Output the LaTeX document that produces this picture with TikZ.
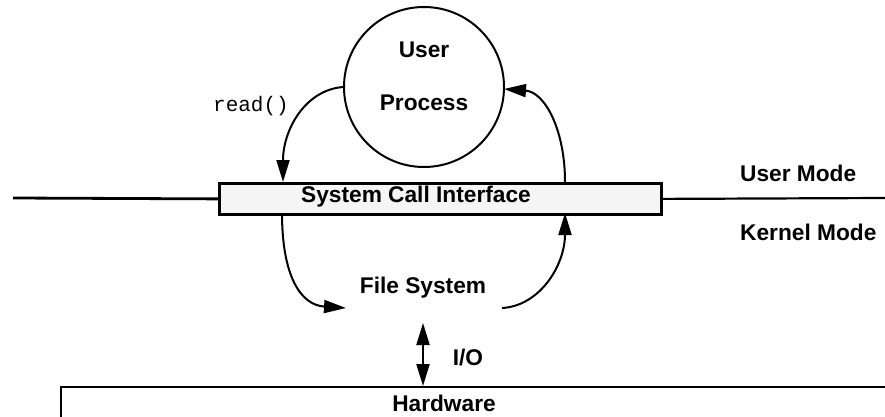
\documentclass[tikz,border=0pt]{standalone}
\usepackage{fontspec}
\setmainfont{Liberation Sans}
\newfontfamily\monofnt{Liberation Mono}
\usetikzlibrary{arrows.meta}
\tikzset{
  lbl/.style={font=\fontsize{22.7}{26}\selectfont\bfseries, inner sep=0pt},
  codelbl/.style={font=\monofnt\fontsize{21}{25}\selectfont, inner sep=0pt},
  bigtip/.tip={Triangle[length=22pt,width=13pt]},
  conn/.style={line width=2pt, -bigtip},
  bar/.style={line width=2.8pt},
}
\begin{document}
\begin{tikzpicture}[x=1pt,y=-1pt]
\useasboundingbox (0,0) rectangle (885,417);
% user/kernel boundary line
\coordinate (lineL) at (13,198);
\coordinate (lineR) at (885,198);
\node[draw, line width=2.8pt, fill=black!4, minimum width=442pt, minimum height=31pt, inner sep=0pt, anchor=north west] (sci) at (218,182) {};
\node[lbl] (scitext) at (416,197) {System Call Interface};
\draw[bar] (lineL) -- (sci.west);
\draw[line width=2.2pt] (sci.east) -- (lineR);
% user process
\node[draw, circle, line width=2pt, minimum size=160pt, inner sep=0pt] (up) at (424,87) {};
\node[lbl] (user) at (424,50) {User};
\node[lbl] (proc) at (424,103) {Process};
\node[codelbl] (read) at (251,106) {read()};
% mode labels
\node[lbl, anchor=west] (um) at (740,173) {User Mode};
\node[lbl, anchor=west] (km) at (740,232) {Kernel Mode};
% file system
\node[lbl] (fs) at (423,288) {File System};
% hardware
\coordinate (hwBL) at (61,417);
\coordinate (hwTR) at (885,387);
\draw[line width=1.7pt] (hwBL) |- (hwTR);
\node[lbl] (hw) at (444,403) {Hardware};
% arrow endpoints
\coordinate (a1s) at (up.west);
\coordinate (a1e) at (283,182);
\coordinate (a2s) at (565,182);
\coordinate (a2e) at (504,89);
\coordinate (a3s) at (282,213);
\coordinate (a3e) at (346,308);
\coordinate (a4s) at (502,308);
\coordinate (a4e) at (565,213);
\coordinate (ioT) at (423,323);
\coordinate (ioB) at (423,386);
\draw[conn] (a1s) .. controls (305,90) and (283,130) .. (a1e);
\draw[conn] (a2s) .. controls (565,130) and (545,92) .. (a2e);
\draw[conn] (a3s) .. controls (282,275) and (300,305) .. (a3e);
\draw[conn] (a4s) .. controls (540,306) and (565,265) .. (a4e);
\draw[line width=2pt, bigtip-bigtip] (ioT) -- (ioB);
\node[lbl] (io) at (468,357) {I/O};
\end{tikzpicture}
\end{document}
